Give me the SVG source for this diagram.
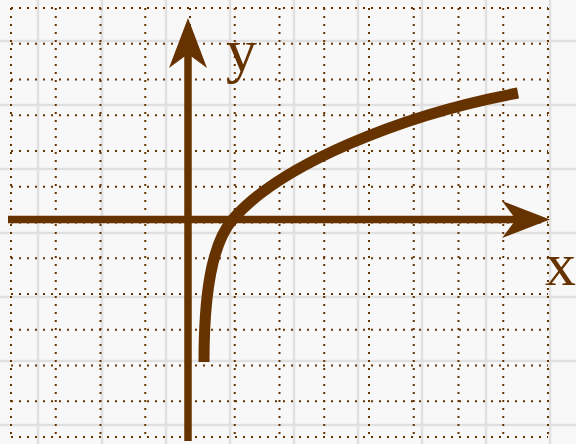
<svg xmlns="http://www.w3.org/2000/svg" width="576" height="444" viewBox="0 0 576 444">
<style>
.g{stroke:#e0e0e0;stroke-width:2.5;fill:none}
.d{stroke:#663300;stroke-width:2;stroke-dasharray:2 6;fill:none}
.ax{stroke:#663300;stroke-width:7.5;fill:none}
.lab{font-family:"Liberation Serif",serif;font-size:62px;fill:#663300}
</style>
<rect width="576" height="444" fill="#f8f8f8"/>
<g id="grid">
<path class="g" d="M38,0V444M102,0V444M166,0V444M230,0V444M294,0V444M358,0V444M422,0V444M486,0V444M550,0V444M0,41H576M0,105H576M0,169H576M0,233H576M0,297H576M0,361H576M0,425H576"/>
<path class="d" d="M11,8V437M55.75,8V437M100.5,8V437M145.25,8V437M190,8V437M234.75,8V437M279.5,8V437M324.25,8V437M369,8V437M413.75,8V437M458.5,8V437M503.25,8V437M548,8V437"/>
<path class="d" d="M11,8H548M11,43.75H548M11,79.5H548M11,115.25H548M11,151H548M11,186.75H548M11,222.5H548M11,258.25H548M11,294H548M11,329.75H548M11,365.5H548M11,401.25H548M11,437H548"/>
</g>
<g id="connectors">
<line class="ax" x1="8" y1="219.5" x2="522" y2="219.5"/>
<polygon fill="#663300" points="550,219.5 502,201 516,219.5 502,238"/>
<line class="ax" x1="188" y1="441" x2="188" y2="45"/>
<polygon fill="#663300" points="188,18 207,68 188,54 169,68"/>
</g>
<g id="curve">
<path d="M204,362 C204,300 210,245 233,219 C280,165 400,115 518,93" fill="none" stroke="#663300" stroke-width="11"/>
</g>
<g id="label-y"><text class="lab" x="226" y="71">y</text></g>
<g id="label-x"><text class="lab" x="545" y="285">x</text></g>
</svg>
